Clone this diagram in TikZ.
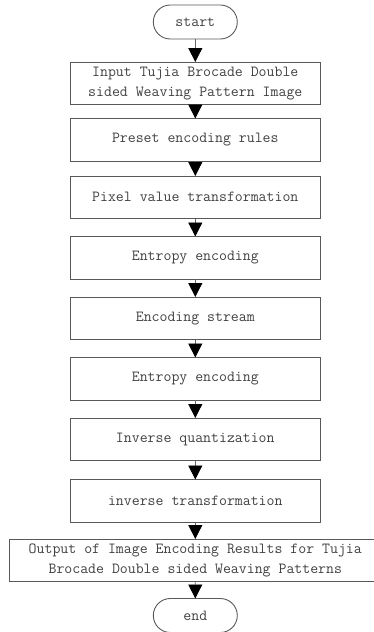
\documentclass[tikz,border=0pt]{standalone}
\usetikzlibrary{positioning}
\usetikzlibrary{arrows.meta}
\usetikzlibrary{shapes.misc}

\begin{document}
\begin{tikzpicture}[x=1pt,y=1pt,node distance=18pt,
	>={Triangle[width=14pt,length=14pt,color=black]},
	flow/.style={->,draw=black!60,line width=0.8pt},
	step box/.style={rectangle,draw=black!65,line width=0.9pt,outer sep=0pt,
		minimum width=250.7pt,minimum height=42.5pt,inner sep=0pt,align=center,
		text=black!75,font=\ttfamily\fontsize{15.4}{20}\selectfont},
	end box/.style={rounded rectangle,draw=black!65,line width=0.9pt,outer sep=0pt,
		minimum width=84pt,minimum height=34pt,inner sep=0pt,text=black!75,
		font=\ttfamily\fontsize{15.4}{20}\selectfont}]
	
	\useasboundingbox (0,0) rectangle (374,-632);
	
	\node[end box] (start) at (195.3,-22) {start};
	\node[step box] (input) [below=23pt of start] {Input Tujia Brocade Double\\sided Weaving Pattern Image};
	\node[step box] (rules) [below=14pt of input] {Preset encoding rules};
	\node[step box] (pixel) [below=15pt of rules] {Pixel value transformation};
	\node[step box] (entropy) [below=of pixel] {Entropy encoding};
	\node[step box] (stream) [below=of entropy] {Encoding stream};
	\node[step box] (entropyb) [below=of stream] {Entropy encoding};
	\node[step box] (quant) [below=of entropyb] {Inverse quantization};
	\node[step box] (inverse) [below=19pt of quant] {inverse transformation};
	\node[step box,minimum width=372.6pt] (output) [below=17pt of inverse] {Output of Image Encoding Results for Tujia\\Brocade Double sided Weaving Patterns};
	\node[end box] (end) [below=17pt of output] {end};
	
	\path[flow]
	(start) edge (input)
	(input) edge (rules)
	(rules) edge (pixel)
	(pixel) edge (entropy)
	(entropy) edge (stream)
	(stream) edge (entropyb)
	(entropyb) edge (quant)
	(quant) edge (inverse)
	(inverse) edge (output)
	(output) edge (end);
\end{tikzpicture}
\end{document}
